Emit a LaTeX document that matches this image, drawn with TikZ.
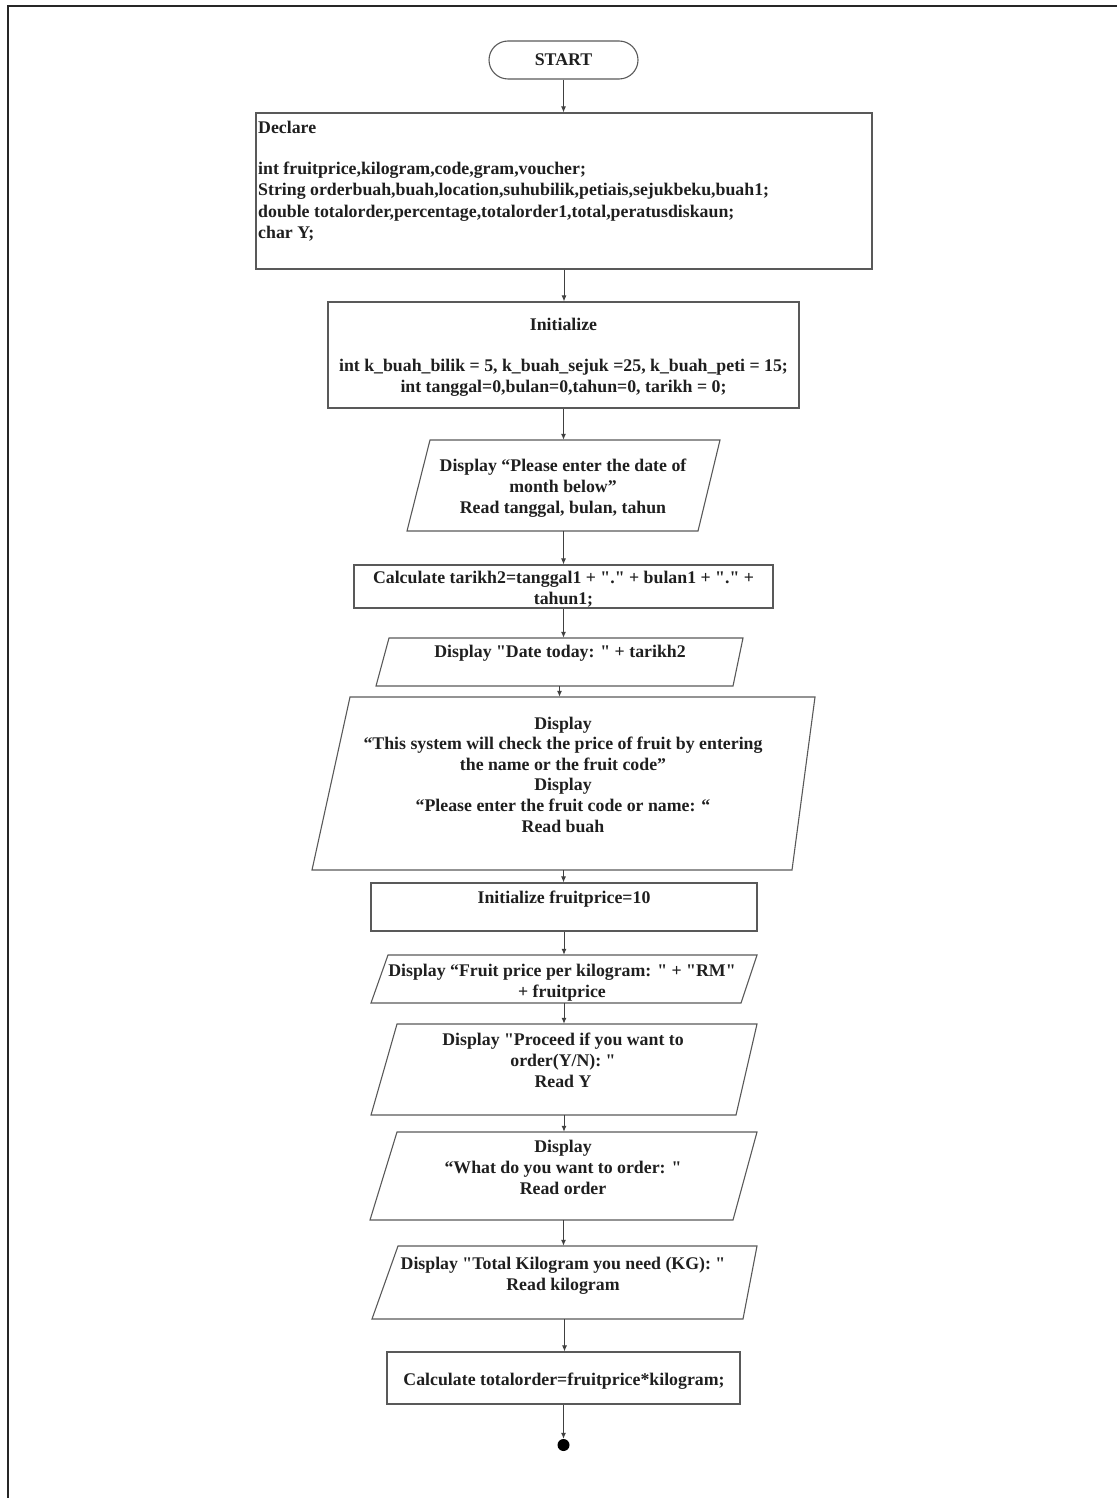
\documentclass[tikz,border=0pt]{standalone}
\usepackage{fontspec}
\setmainfont{Liberation Serif}[Ligatures=TeXOff]
\usetikzlibrary{arrows.meta,fit,shapes.misc}
\begin{document}
\begin{tikzpicture}[x=1pt,y=-1pt,
  every node/.style={font=\fontsize{17.8}{21}\selectfont\bfseries, text=black!88},
  box/.style={draw=black!65, line width=1.1pt, inner sep=0, rectangle},
  term/.style={draw=black!65, line width=1.1pt, inner sep=0, rounded rectangle},
  shapeline/.style={draw=black!65, line width=1.1pt},
  txt/.style={align=center, inner sep=0, anchor=north},
  hull/.style={inner sep=0, draw=none},
  flow/.style={draw=black!75, line width=1pt, -{Latex[length=6pt,width=5pt]}}
]
% page extent and the framing lines
\useasboundingbox (0,0) rectangle (1117,1498);
\draw[line width=2.4pt, black!85] (8,1498) -- (8,6) -- (1117,6);

% terminator
\node[term, minimum width=149pt, minimum height=38pt] (start) at (563.5,60) {START};

% declaration block
\node[box, minimum width=616pt, minimum height=156pt] (declare) at (564,191) {};
\node[anchor=north west, align=left, inner sep=0,
      font=\fontsize{17.8}{21.5}\selectfont\bfseries] (declaretxt) at (258,120.5)
  {Declare\\[19.5pt]
   int fruitprice,kilogram,code,gram,voucher;\\
   String orderbuah,buah,location,suhubilik,petiais,sejukbeku,buah1;\\
   double totalorder,percentage,totalorder1,total,peratusdiskaun;\\
   char Y;};

% initialisation block
\node[box, minimum width=471pt, minimum height=106pt] (init) at (563.5,355) {};
\node[txt] (inittxt) at (563.5,317.5)
  {Initialize\\[20pt]
   int k\_buah\_bilik = 5, k\_buah\_sejuk =25, k\_buah\_peti = 15;\\
   int tanggal=0,bulan=0,tahun=0, tarikh = 0;};

% input: date
\draw[shapeline] (430,440) -- (720,440) -- (698,531) -- (407,531) -- cycle;
\node[hull, fit={(430,440)(720,440)(698,531)(407,531)}] (p1) {};
\node[txt] (p1txt) at (563,458.5)
  {Display “Please enter the date of\\month below”\\Read tanggal, bulan, tahun};

% date string
\node[box, minimum width=419pt, minimum height=43pt] (calc1) at (563.5,586.5) {};
\node[txt] (calc1txt) at (563.5,570.5)
  {Calculate tarikh2=tanggal1 + "." + bulan1 + "." +\\tahun1;};

% output: date
\draw[shapeline] (389,638) -- (743,638) -- (733,686) -- (376,686) -- cycle;
\node[hull, fit={(389,638)(743,638)(733,686)(376,686)}] (p2) {};
\node[txt] (p2txt) at (560,645) {Display "Date today: " + tarikh2};

% input: fruit code or name
\draw[shapeline] (350,697) -- (815,697) -- (792,870) -- (312,870) -- cycle;
\node[hull, fit={(350,697)(815,697)(792,870)(312,870)}] (p3) {};
\node[txt, font=\fontsize{17.8}{20.6}\selectfont\bfseries] (p3txt) at (563,716.5)
  {Display\\“This system will check the price of fruit by entering\\the name or the fruit code”\\
   Display\\“Please enter the fruit code or name: “\\Read buah};

% price
\node[box, minimum width=386pt, minimum height=48pt] (fp) at (564,907) {};
\node[txt] (fptxt) at (564,890.5) {Initialize fruitprice=10};

% output: price per kilogram
\draw[shapeline] (388,955) -- (757,955) -- (741,1003) -- (371,1003) -- cycle;
\node[hull, fit={(388,955)(757,955)(741,1003)(371,1003)}] (p4) {};
\node[txt] (p4txt) at (562,963.5) {Display “Fruit price per kilogram: " + "RM"\\+ fruitprice};

% input: proceed
\draw[shapeline] (397,1024) -- (757,1024) -- (736,1115) -- (371,1115) -- cycle;
\node[hull, fit={(397,1024)(757,1024)(736,1115)(371,1115)}] (p5) {};
\node[txt] (p5txt) at (563,1032.5) {Display "Proceed if you want to\\order(Y/N): "\\Read Y};

% input: order
\draw[shapeline] (397,1132) -- (757,1132) -- (733,1220) -- (370,1220) -- cycle;
\node[hull, fit={(397,1132)(757,1132)(733,1220)(370,1220)}] (p6) {};
\node[txt] (p6txt) at (563,1139.5) {Display\\“What do you want to order: "\\Read order};

% input: kilogram
\draw[shapeline] (398,1246) -- (757,1246) -- (743,1319) -- (372,1319) -- cycle;
\node[hull, fit={(398,1246)(757,1246)(743,1319)(372,1319)}] (p7) {};
\node[txt] (p7txt) at (563,1256.5) {Display "Total Kilogram you need (KG): "\\Read kilogram};

% total
\node[box, minimum width=353pt, minimum height=52pt] (calc2) at (563.5,1378) {};
\node[txt] (calc2txt) at (564,1372.5) {Calculate totalorder=fruitprice*kilogram;};

% connector end point
\node[circle, fill=black, inner sep=0, minimum size=12pt] (stop) at (563.5,1445) {};

% flow lines
\foreach \a/\b in {start/declare, declare/init, init/p1, p1/calc1, calc1/p2, p2/p3,
                   p3/fp, fp/p4, p4/p5, p5/p6, p6/p7, p7/calc2, calc2/stop}
  \draw[flow] (\a.south) -- (\a.south |- \b.north);
\end{tikzpicture}
\end{document}
